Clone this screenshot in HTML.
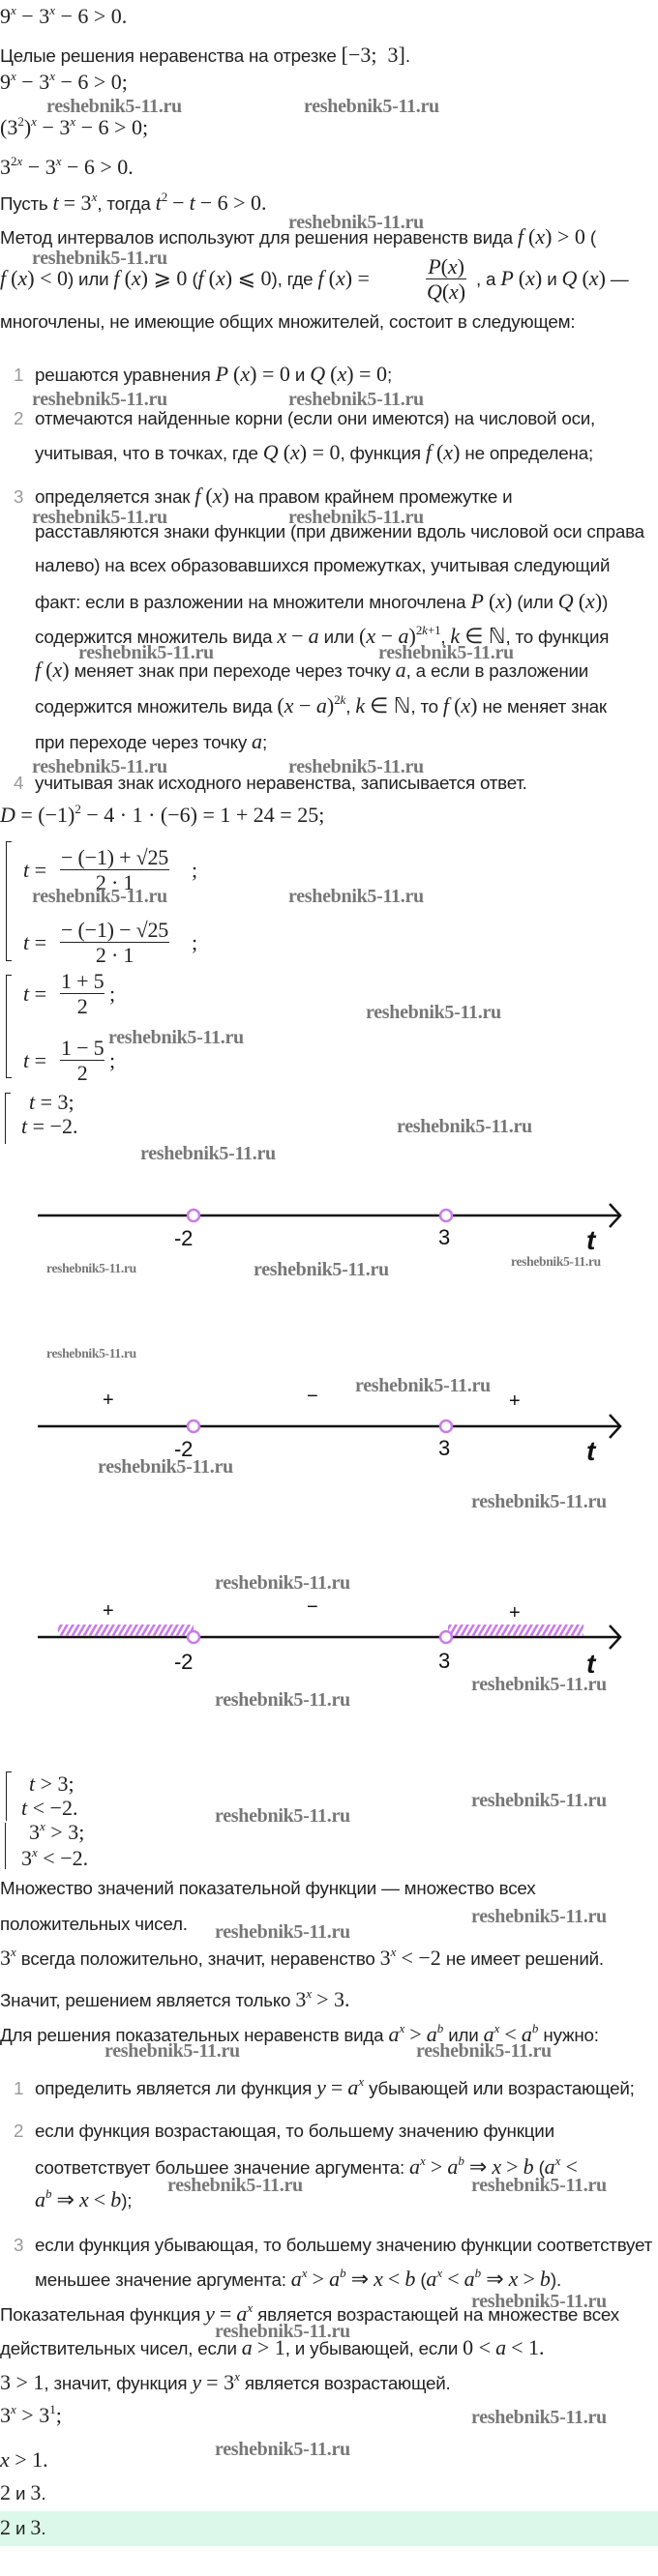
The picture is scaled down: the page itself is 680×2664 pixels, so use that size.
<!DOCTYPE html>
<html><head><meta charset="utf-8">
<style>
html,body{margin:0;padding:0;background:#fff;}
body{width:680px;height:2664px;position:relative;overflow:hidden;font-family:"Liberation Sans","DejaVu Sans",sans-serif;font-size:18.8px;color:#222;letter-spacing:-0.2px;}
.l{position:absolute;left:0;white-space:nowrap;line-height:22px;height:22px;}
.m{font-family:"Liberation Serif",serif;font-size:22px;letter-spacing:0;}
i{font-family:"Liberation Serif",serif;font-size:22px;letter-spacing:0;}
.n{color:#999;display:inline-block;width:22px;}
sup{font-size:13px;font-family:"Liberation Serif",serif;vertical-align:9px;line-height:0;}
sup i{font-size:13px;}
.w{position:absolute;white-space:nowrap;font-family:"Liberation Serif",serif;font-weight:bold;font-size:20px;color:#777;line-height:20px;letter-spacing:-0.3px;}
.ws{font-size:13.5px;}
.fr{display:inline-block;vertical-align:middle;text-align:center;font-family:"Liberation Serif",serif;font-size:22px;}
.fr span{display:block;line-height:25px;padding:0 1px;}
.fr span.t{border-bottom:1.3px solid #222;}
.br{position:absolute;border:1.5px solid #222;border-right:none;width:5px;}
</style></head><body>

<div class="l m" style="top:6px">9<sup><i>x</i></sup> − 3<sup><i>x</i></sup> − 6 &gt; 0.</div>
<div class="l" style="top:46px">Целые решения неравенства на отрезке <span class="m">[−3;&nbsp; 3]</span>.</div>
<div class="l m" style="top:74px">9<sup><i>x</i></sup> − 3<sup><i>x</i></sup> − 6 &gt; 0;</div>
<div class="w" style="top:100px;left:48px">reshebnik5-11.ru</div>
<div class="w" style="top:100px;left:314px">reshebnik5-11.ru</div>
<div class="l m" style="top:121px">(3<sup>2</sup>)<sup><i>x</i></sup> − 3<sup><i>x</i></sup> − 6 &gt; 0;</div>
<div class="l m" style="top:162px">3<sup>2<i>x</i></sup> − 3<sup><i>x</i></sup> − 6 &gt; 0.</div>
<div class="l" style="top:199px">Пусть <i>t</i> <span class="m">= 3</span><sup><i>x</i></sup>, тогда <i>t</i><sup>2</sup> <span class="m">−</span> <i>t</i> <span class="m">− 6 &gt; 0.</span></div>
<div class="w" style="top:220px;left:298px">reshebnik5-11.ru</div>
<div class="l" style="top:234px">Метод интервалов используют для решения неравенств вида <i>f</i> <span class="m">(<i>x</i>) &gt; 0</span> (</div>
<div class="w" style="top:257px;left:33px">reshebnik5-11.ru</div>
<div class="l" style="top:277px;height:24px"><i>f</i> <span class="m">(<i>x</i>) &lt; 0</span>) или <i>f</i> <span class="m">(<i>x</i>) ⩾ 0</span> (<i>f</i> <span class="m">(<i>x</i>) ⩽ 0</span>), где <i>f</i> <span class="m">(<i>x</i>) =</span> </div>
<div style="position:absolute;left:440px;top:263px" class="fr"><span class="t"><i>P</i>(<i>x</i>)</span><span><i>Q</i>(<i>x</i>)</span></div>
<div class="l" style="top:277px;left:492px">, а <i>P</i> <span class="m">(<i>x</i>)</span> и <i>Q</i> <span class="m">(<i>x</i>)</span> —</div>
<div class="l" style="top:322px">многочлены, не имеющие общих множителей, состоит в следующем:</div>

<div class="l" style="top:376px;left:14px"><span class="n">1</span>решаются уравнения <i>P</i> <span class="m">(<i>x</i>) = 0</span> и <i>Q</i> <span class="m">(<i>x</i>) = 0</span>;</div>
<div class="w" style="top:403px;left:33px">reshebnik5-11.ru</div>
<div class="w" style="top:403px;left:298px">reshebnik5-11.ru</div>
<div class="l" style="top:422px;left:14px"><span class="n">2</span>отмечаются найденные корни (если они имеются) на числовой оси,</div>
<div class="l" style="top:457px;left:36px">учитывая, что в точках, где <i>Q</i> <span class="m">(<i>x</i>) = 0</span>, функция <i>f</i> <span class="m">(<i>x</i>)</span> не определена;</div>
<div class="l" style="top:502px;left:14px"><span class="n">3</span>определяется знак <i>f</i> <span class="m">(<i>x</i>)</span> на правом крайнем промежутке и</div>
<div class="w" style="top:525px;left:33px">reshebnik5-11.ru</div>
<div class="w" style="top:525px;left:298px">reshebnik5-11.ru</div>
<div class="l" style="top:539px;left:36px">расставляются знаки функции (при движении вдоль числовой оси справа</div>
<div class="l" style="top:574px;left:36px">налево) на всех образовавшихся промежутках, учитывая следующий</div>
<div class="l" style="top:611px;left:36px">факт: если в разложении на множители многочлена <i>P</i> <span class="m">(<i>x</i>)</span> (или <i>Q</i> <span class="m">(<i>x</i>)</span>)</div>
<div class="l" style="top:647px;left:36px">содержится множитель вида <i>x</i> <span class="m">−</span> <i>a</i> или <span class="m">(<i>x</i> − <i>a</i>)</span><sup>2<i>k</i>+1</sup>, <i>k</i> <span class="m">∈ ℕ</span>, то функция</div>
<div class="w" style="top:665px;left:81px">reshebnik5-11.ru</div>
<div class="w" style="top:665px;left:391px">reshebnik5-11.ru</div>
<div class="l" style="top:682px;left:36px"><i>f</i> <span class="m">(<i>x</i>)</span> меняет знак при переходе через точку <i>a</i>, а если в разложении</div>
<div class="l" style="top:719px;left:36px">содержится множитель вида <span class="m">(<i>x</i> − <i>a</i>)</span><sup>2<i>k</i></sup>, <i>k</i> <span class="m">∈ ℕ</span>, то <i>f</i> <span class="m">(<i>x</i>)</span> не меняет знак</div>
<div class="l" style="top:756px;left:36px">при переходе через точку <i>a</i>;</div>
<div class="w" style="top:783px;left:33px">reshebnik5-11.ru</div>
<div class="w" style="top:783px;left:298px">reshebnik5-11.ru</div>
<div class="l" style="top:799px;left:14px"><span class="n">4</span>учитывая знак исходного неравенства, записывается ответ.</div>

<div class="l m" style="top:832px"><i>D</i> = (−1)<sup>2</sup> − 4 · 1 · (−6) = 1 + 24 = 25;</div>

<div class="br" style="left:6px;top:870px;height:122px"></div>
<div class="l m" style="top:889px;left:24px"><i>t</i> = </div>
<div class="fr" style="position:absolute;left:62px;top:874px"><span class="t">− (−1) + √25</span><span>2 · 1</span></div>
<div class="l m" style="top:889px;left:198px">;</div>
<div class="w" style="top:917px;left:33px">reshebnik5-11.ru</div>
<div class="w" style="top:917px;left:298px">reshebnik5-11.ru</div>
<div class="l m" style="top:964px;left:24px"><i>t</i> = </div>
<div class="fr" style="position:absolute;left:62px;top:949px"><span class="t">− (−1) − √25</span><span>2 · 1</span></div>
<div class="l m" style="top:964px;left:198px">;</div>

<div class="br" style="left:6px;top:1008px;height:105px"></div>
<div class="l m" style="top:1017px;left:24px"><i>t</i> = </div>
<div class="fr" style="position:absolute;left:62px;top:1002px"><span class="t">1 + 5</span><span>2</span></div>
<div class="l m" style="top:1017px;left:113px">;</div>
<div class="w" style="top:1037px;left:378px">reshebnik5-11.ru</div>
<div class="w" style="top:1063px;left:112px">reshebnik5-11.ru</div>
<div class="l m" style="top:1086px;left:24px"><i>t</i> = </div>
<div class="fr" style="position:absolute;left:62px;top:1071px"><span class="t">1 − 5</span><span>2</span></div>
<div class="l m" style="top:1086px;left:113px">;</div>

<div class="br" style="left:5px;top:1130px;height:52px;border-bottom:none"></div>
<div class="l m" style="top:1129px;left:30px"><i>t</i> = 3;</div>
<div class="l m" style="top:1154px;left:22px"><i>t</i> = −2.</div>
<div class="w" style="top:1155px;left:410px">reshebnik5-11.ru</div>
<div class="w" style="top:1183px;left:145px">reshebnik5-11.ru</div>

<svg style="position:absolute;left:0;top:1230px" width="680" height="500" viewBox="0 1230 680 500">
<defs><pattern id="h" width="6" height="14" patternUnits="userSpaceOnUse" patternTransform="skewX(-30)"><rect x="0" y="0" width="3" height="14" fill="#c97ce8"/></pattern></defs>
<g stroke="#111" stroke-width="2.5" fill="none">
<line x1="39" y1="1257" x2="641" y2="1257"/><polyline points="630,1245 641,1257 630,1269"/>
<line x1="39" y1="1475" x2="641" y2="1475"/><polyline points="630,1463 641,1475 630,1487"/>
<line x1="39" y1="1693" x2="641" y2="1693"/><polyline points="630,1681 641,1693 630,1705"/>
</g>
<rect x="60" y="1680" width="140" height="12" fill="url(#h)"/>
<rect x="463" y="1680" width="140" height="12" fill="url(#h)"/>
<g stroke="#c97ce8" stroke-width="2.5" fill="#fff">
<circle cx="200" cy="1257" r="6"/><circle cx="461" cy="1257" r="6"/>
<circle cx="200" cy="1475" r="6"/><circle cx="461" cy="1475" r="6"/>
<circle cx="200" cy="1693" r="6"/><circle cx="461" cy="1693" r="6"/>
</g>
<g font-family="Liberation Sans,sans-serif" font-size="22" fill="#111">
<text x="180" y="1288">-2</text><text x="453" y="1287">3</text>
<text x="606" y="1292" font-style="italic" font-size="28" font-weight="bold">t</text>
<text x="180" y="1506">-2</text><text x="453" y="1505">3</text>
<text x="606" y="1510" font-style="italic" font-size="28" font-weight="bold">t</text>
<text x="180" y="1726">-2</text><text x="453" y="1725">3</text>
<text x="606" y="1730" font-style="italic" font-size="28" font-weight="bold">t</text>
<text x="106" y="1454" font-size="20">+</text><text x="317" y="1450" font-size="20">−</text><text x="526" y="1455" font-size="20">+</text>
<text x="106" y="1672" font-size="20">+</text><text x="317" y="1668" font-size="20">−</text><text x="526" y="1674" font-size="20">+</text>
</g>
</svg>
<div class="w ws" style="top:1302px;left:48px">reshebnik5-11.ru</div>
<div class="w ws" style="top:1295px;left:528px">reshebnik5-11.ru</div>
<div class="w" style="top:1303px;left:262px">reshebnik5-11.ru</div>
<div class="w ws" style="top:1390px;left:48px">reshebnik5-11.ru</div>
<div class="w" style="top:1423px;left:367px">reshebnik5-11.ru</div>
<div class="w" style="top:1507px;left:101px">reshebnik5-11.ru</div>
<div class="w" style="top:1543px;left:487px">reshebnik5-11.ru</div>
<div class="w" style="top:1627px;left:222px">reshebnik5-11.ru</div>
<div class="w" style="top:1732px;left:487px">reshebnik5-11.ru</div>
<div class="w" style="top:1748px;left:222px">reshebnik5-11.ru</div>

<div class="br" style="left:6px;top:1832px;height:50px;border-bottom:none"></div>
<div class="br" style="left:5px;top:1885px;height:48px;border-top:none;border-bottom:none"></div>
<div class="l m" style="top:1834px;left:30px"><i>t</i> &gt; 3;</div>
<div class="l m" style="top:1859px;left:22px"><i>t</i> &lt; −2.</div>
<div class="l m" style="top:1884px;left:30px">3<sup><i>x</i></sup> &gt; 3;</div>
<div class="l m" style="top:1911px;left:22px">3<sup><i>x</i></sup> &lt; −2.</div>
<div class="w" style="top:1852px;left:487px">reshebnik5-11.ru</div>
<div class="w" style="top:1868px;left:222px">reshebnik5-11.ru</div>

<div class="l" style="top:1942px">Множество значений показательной функции — множество всех</div>
<div class="l" style="top:1979px">положительных чисел.</div>
<div class="w" style="top:1972px;left:487px">reshebnik5-11.ru</div>
<div class="w" style="top:1988px;left:222px">reshebnik5-11.ru</div>
<div class="l" style="top:2014px"><span class="m">3</span><sup><i>x</i></sup> всегда положительно, значит, неравенство <span class="m">3</span><sup><i>x</i></sup> <span class="m">&lt; −2</span> не имеет решений.</div>
<div class="l" style="top:2057px">Значит, решением является только <span class="m">3</span><sup><i>x</i></sup> <span class="m">&gt; 3.</span></div>

<div class="l" style="top:2093px">Для решения показательных неравенств вида <i>a</i><sup><i>x</i></sup> <span class="m">&gt;</span> <i>a</i><sup><i>b</i></sup> или <i>a</i><sup><i>x</i></sup> <span class="m">&lt;</span> <i>a</i><sup><i>b</i></sup> нужно:</div>
<div class="w" style="top:2111px;left:108px">reshebnik5-11.ru</div>
<div class="w" style="top:2111px;left:430px">reshebnik5-11.ru</div>
<div class="l" style="top:2148px;left:14px"><span class="n">1</span>определить является ли функция <i>y</i> <span class="m">=</span> <i>a</i><sup><i>x</i></sup> убывающей или возрастающей;</div>
<div class="l" style="top:2193px;left:14px"><span class="n">2</span>если функция возрастающая, то большему значению функции</div>
<div class="l" style="top:2230px;left:36px">соответствует большее значение аргумента: <i>a</i><sup><i>x</i></sup> <span class="m">&gt;</span> <i>a</i><sup><i>b</i></sup> <span class="m">⇒</span> <i>x</i> <span class="m">&gt;</span> <i>b</i> (<i>a</i><sup><i>x</i></sup> <span class="m">&lt;</span></div>
<div class="w" style="top:2250px;left:173px">reshebnik5-11.ru</div>
<div class="w" style="top:2250px;left:487px">reshebnik5-11.ru</div>
<div class="l" style="top:2264px;left:36px"><i>a</i><sup><i>b</i></sup> <span class="m">⇒</span> <i>x</i> <span class="m">&lt;</span> <i>b</i>);</div>
<div class="l" style="top:2311px;left:14px"><span class="n">3</span>если функция убывающая, то большему значению функции соответствует</div>
<div class="l" style="top:2346px;left:36px">меньшее значение аргумента: <i>a</i><sup><i>x</i></sup> <span class="m">&gt;</span> <i>a</i><sup><i>b</i></sup> <span class="m">⇒</span> <i>x</i> <span class="m">&lt;</span> <i>b</i> (<i>a</i><sup><i>x</i></sup> <span class="m">&lt;</span> <i>a</i><sup><i>b</i></sup> <span class="m">⇒</span> <i>x</i> <span class="m">&gt;</span> <i>b</i>).</div>
<div class="w" style="top:2370px;left:487px">reshebnik5-11.ru</div>
<div class="l" style="top:2382px">Показательная функция <i>y</i> <span class="m">=</span> <i>a</i><sup><i>x</i></sup> является возрастающей на множестве всех</div>
<div class="w" style="top:2401px;left:222px">reshebnik5-11.ru</div>
<div class="l" style="top:2417px">действительных чисел, если <i>a</i> <span class="m">&gt; 1</span>, и убывающей, если <span class="m">0 &lt;</span> <i>a</i> <span class="m">&lt; 1.</span></div>
<div class="l" style="top:2453px"><span class="m">3 &gt; 1</span>, значит, функция <i>y</i> <span class="m">= 3</span><sup><i>x</i></sup> является возрастающей.</div>
<div class="l m" style="top:2487px">3<sup><i>x</i></sup> &gt; 3<sup>1</sup>;</div>
<div class="w" style="top:2490px;left:487px">reshebnik5-11.ru</div>
<div class="w" style="top:2523px;left:222px">reshebnik5-11.ru</div>
<div class="l m" style="top:2533px"><i>x</i> &gt; 1.</div>
<div class="l" style="top:2567px"><span class="m">2</span> и <span class="m">3</span>.</div>
<div style="position:absolute;left:0;top:2597px;width:680px;height:36px;background:#dcf8ea"></div>
<div class="l" style="top:2603px"><span class="m">2</span> и <span class="m">3</span>.</div>
</body></html>
